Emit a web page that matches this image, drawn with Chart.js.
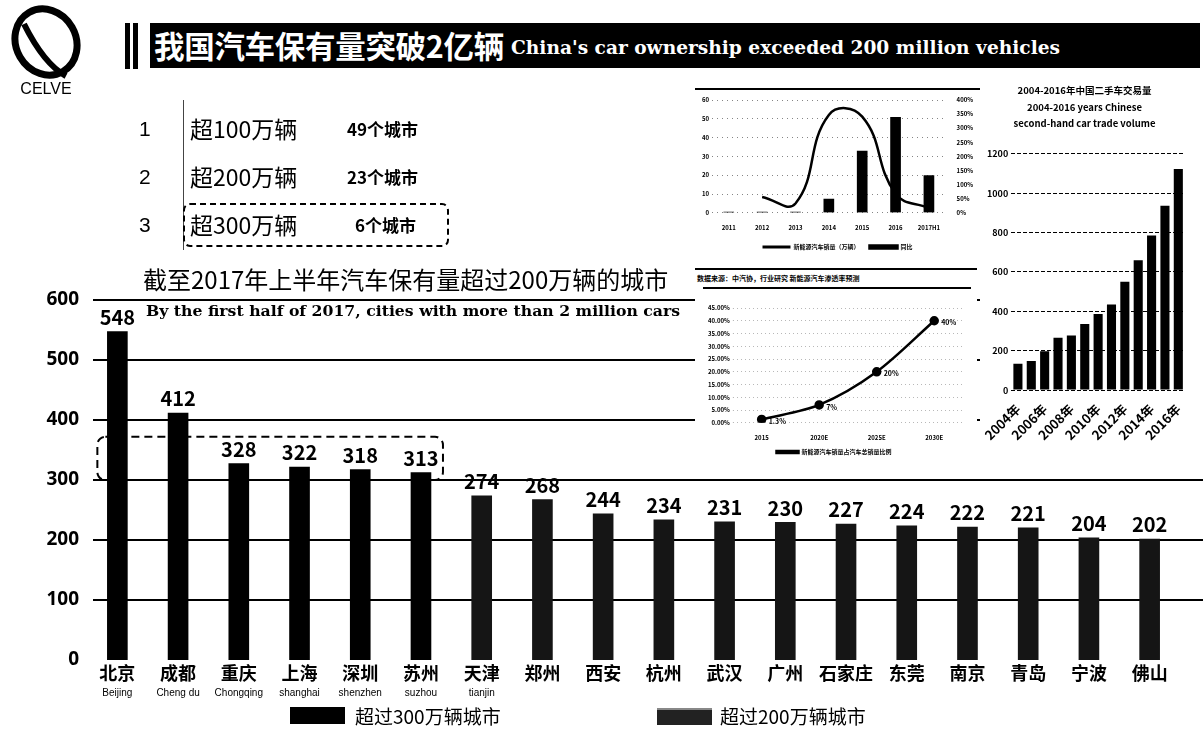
<!DOCTYPE html>
<html lang="zh-CN">
<head>
<meta charset="UTF-8">
<title>我国汽车保有量突破2亿辆</title>
<script src="https://cdn.jsdelivr.net/npm/chart.js"></script>
<style>
  body { margin: 0; background: #fff; font-family: "Noto Sans CJK SC", sans-serif; color: #000; }
  #page { position: relative; width: 1203px; height: 729px; overflow: hidden; background: #fff; }
  .abs { position: absolute; }
  .inset { position: absolute; background: #fff; }
  .num { position: absolute; left: 139px; font: 21px "Liberation Sans", sans-serif; }
  .item { position: absolute; left: 190px; font-size: 23px; line-height: 28px; }
  .cnt { position: absolute; font-size: 17px; font-weight: bold; line-height: 24px; }
  .lg-box { position: absolute; background: #000; }
  .lg-text { position: absolute; font-size: 19px; line-height: 24px; }
</style>
</head>
<body>
<div id="page">
  <!-- 主图 -->
  <canvas id="mainChart" class="abs" width="1203" height="729" style="left:0;top:0"></canvas>

  <!-- 标题栏 -->
  <svg class="abs" style="left:4px;top:4px" width="88" height="96" viewBox="0 0 88 96">
    <ellipse cx="42" cy="38" rx="30" ry="34" fill="none" stroke="#000" stroke-width="7" transform="rotate(-30 42 38)"/>
    <path d="M20 20 Q40 60 62 72" fill="none" stroke="#000" stroke-width="6"/>
    <text x="42" y="90" text-anchor="middle" font-family="Liberation Sans" font-size="16">CELVE</text>
  </svg>
  <div class="abs" style="left:125px;top:23px;width:5px;height:46px;background:#000"></div>
  <div class="abs" style="left:133px;top:23px;width:5px;height:46px;background:#000"></div>
  <div class="abs" style="left:150px;top:23px;width:1050px;height:45px;background:#000;color:#fff;white-space:nowrap">
    <span style="position:absolute;left:4px;top:1px;font-size:30.5px;font-weight:bold;line-height:42px;letter-spacing:-0.3px">我国汽车保有量突破2亿辆</span>
    <span style="position:absolute;left:361px;top:5px;font:bold 18.6px 'DejaVu Serif',serif;line-height:40px">China's car ownership exceeded 200 million vehicles</span>
  </div>

  <!-- 城市数量 -->
  <div class="abs" style="left:183px;top:100px;width:1px;height:150px;background:#444"></div>
  <div class="num" style="top:117px">1</div>
  <div class="num" style="top:165px">2</div>
  <div class="num" style="top:213px">3</div>
  <div class="item" style="top:114px">超100万辆</div>
  <div class="item" style="top:162px">超200万辆</div>
  <div class="item" style="top:210px">超300万辆</div>
  <div class="cnt" style="left:347px;top:117px">49个城市</div>
  <div class="cnt" style="left:347px;top:165px">23个城市</div>
  <div class="cnt" style="left:355px;top:213px">6个城市</div>
  <div class="abs" style="left:183px;top:203px;width:262px;height:40px;border:2px dashed #000;border-radius:7px"></div>

  <!-- 主图标题 -->
  <div class="abs" style="left:143px;top:264px;font-size:24px;white-space:nowrap;line-height:30px">截至2017年上半年汽车保有量超过200万辆的城市</div>
  <div class="abs" style="left:146px;top:301px;font:bold 15.7px 'DejaVu Serif',serif;white-space:nowrap;line-height:20px">By the first half of 2017, cities with more than 2 million cars</div>

  <!-- 图例 -->
  <div class="lg-box" style="left:290px;top:707px;width:55px;height:17px"></div>
  <div class="lg-text" style="left:355px;top:704px">超过300万辆城市</div>
  <div class="lg-box" style="left:657px;top:708px;width:55px;height:15px;background:#222;border-top:2px solid #888"></div>
  <div class="lg-text" style="left:720px;top:704px">超过200万辆城市</div>

  <!-- 小图1：新能源汽车销量 -->
  <div class="inset" style="left:695px;top:88px;width:285px;height:172px;border-top:2px solid #000">
    <canvas id="nevChart" width="285" height="170"></canvas>
  </div>

  <!-- 小图2：渗透率预测 -->
  <div class="inset" style="left:695px;top:266px;width:282px;height:199px">
    <div class="abs" style="left:0;top:2px;width:282px;height:2px;background:#000"></div>
    <div class="abs" style="left:2px;top:7px;font-size:7px;font-weight:bold;white-space:nowrap">数据来源：中汽协，行业研究    新能源汽车渗透率预测</div>
    <div class="abs" style="left:8px;top:21px;width:268px;height:2px;background:#000"></div>
    <canvas id="shareChart" class="abs" style="left:0;top:32px" width="282" height="167"></canvas>
  </div>

  <!-- 小图3：二手车交易量 -->
  <div class="inset" style="left:980px;top:78px;width:223px;height:387px">
    <canvas id="usedChart" width="223" height="387"></canvas>
  </div>
</div>

<script>
  // 主图数据：2017年上半年汽车保有量（万辆）
  var cities = ['北京', '成都', '重庆', '上海', '深圳', '苏州', '天津', '郑州', '西安',
    '杭州', '武汉', '广州', '石家庄', '东莞', '南京', '青岛', '宁波', '佛山'];
  var pinyin = ['Beijing', 'Cheng du', 'Chongqing', 'shanghai', 'shenzhen', 'suzhou', 'tianjin'];
  var carStock = [548, 412, 328, 322, 318, 313, 274, 268, 244, 234, 231, 230, 227, 224, 222, 221, 204, 202];
  var yTicks = [0, 100, 200, 300, 400, 500, 600];

  // 小图1：新能源汽车销量（万辆）与同比
  var nevYears = ['2011', '2012', '2013', '2014', '2015', '2016', '2017H1'];
  var nevSales = [0.5, 0.5, 0.6, 7.5, 33, 51, 20];
  var nevGrowth = [null, 56, 33, 347, 341, 68, 17];

  // 小图2：新能源汽车占比预测（%）
  var shareYears = ['2015', '2020E', '2025E', '2030E'];
  var shareValues = [1.3, 7, 20, 40];
  var shareLabels = ['1.3%', '7%', '20%', '40%'];

  // 小图3：二手车交易量（万辆）
  var usedYears = ['2004年', '2005年', '2006年', '2007年', '2008年', '2009年', '2010年',
    '2011年', '2012年', '2013年', '2014年', '2015年', '2016年'];
  var usedVolume = [134, 148, 197, 266, 277, 336, 387, 435, 550, 659, 785, 936, 1123];

  var CJK = '"Noto Sans CJK SC", sans-serif';
  Chart.defaults.color = '#000';

  // 横向网格线一直画到页面右边
  var gridLines = {
    id: 'gridLines',
    beforeDatasetsDraw: function (chart) {
      var ctx = chart.ctx, ys = chart.scales.y;
      ctx.save();
      ctx.strokeStyle = '#000';
      ctx.lineWidth = 2;
      yTicks.forEach(function (v) {
        if (v === 0) return;
        var py = Math.round(ys.getPixelForValue(v));
        ctx.beginPath();
        ctx.moveTo(chart.chartArea.left + 6, py);
        ctx.lineTo(chart.width, py);
        ctx.stroke();
      });
      ctx.restore();
    }
  };

  // 柱顶数值、300万辆虚线框、拼音
  var mainExtras = {
    id: 'mainExtras',
    afterDatasetsDraw: function (chart) {
      var ctx = chart.ctx, xs = chart.scales.x, ys = chart.scales.y;
      ctx.save();
      ctx.fillStyle = '#000';
      ctx.font = 'bold 20px ' + CJK;
      ctx.textAlign = 'center';
      ctx.textBaseline = 'bottom';
      chart.data.datasets.forEach(function (ds, di) {
        chart.getDatasetMeta(di).data.forEach(function (bar, i) {
          if (ds.data[i] == null) return;
          ctx.fillText(ds.data[i], bar.x, bar.y - 4);
        });
      });

      var n300 = carStock.filter(function (v) { return v >= 300; }).length;
      var x0 = xs.getPixelForValue(0) - 20;
      var x1 = xs.getPixelForValue(n300 - 1) + 22;
      var y0 = ys.getPixelForValue(372);
      var y1 = ys.getPixelForValue(300);
      ctx.strokeStyle = '#000';
      ctx.lineWidth = 2;
      ctx.setLineDash([8, 5]);
      ctx.beginPath();
      ctx.roundRect(x0, y0, x1 - x0, y1 - y0, 8);
      ctx.stroke();
      ctx.setLineDash([]);

      ctx.font = '10px "Liberation Sans", sans-serif';
      ctx.textBaseline = 'middle';
      pinyin.forEach(function (p, i) {
        ctx.fillText(p, xs.getPixelForValue(i), 693);
      });
      ctx.restore();
    }
  };

  new Chart(document.getElementById('mainChart'), {
    type: 'bar',
    data: {
      labels: cities,
      datasets: [{
        label: '超过300万辆城市',
        data: carStock.map(function (v) { return v >= 300 ? v : null; }),
        backgroundColor: '#000',
        barPercentage: 0.34,
        categoryPercentage: 1
      }, {
        label: '超过200万辆城市',
        data: carStock.map(function (v) { return v < 300 ? v : null; }),
        backgroundColor: '#151515',
        barPercentage: 0.34,
        categoryPercentage: 1
      }]
    },
    options: {
      responsive: false,
      animation: false,
      layout: { padding: { top: 300, right: 23, bottom: 29, left: 0 } },
      plugins: { legend: { display: false }, tooltip: { enabled: false } },
      scales: {
        x: {
          stacked: true,
          grid: { display: false, drawTicks: false },
          border: { display: false },
          ticks: { font: { family: CJK, size: 18, weight: 'bold' }, padding: 2, autoSkip: false, maxRotation: 0 },
          afterFit: function (s) { s.height = 40; }
        },
        y: {
          min: 0, max: 600,
          afterBuildTicks: function (s) { s.ticks = yTicks.map(function (v) { return { value: v }; }); },
          grid: { display: false, drawTicks: false },
          border: { display: false },
          ticks: { font: { family: '"Noto Sans", sans-serif', size: 19, weight: 'bold' }, padding: 8 },
          afterFit: function (s) { s.width = 87; }
        }
      }
    },
    plugins: [gridLines, mainExtras]
  });

  // 小图1
  var tiny = { family: CJK, size: 6, weight: 'bold' };
  new Chart(document.getElementById('nevChart'), {
    type: 'bar',
    data: {
      labels: nevYears,
      datasets: [{
        type: 'bar',
        label: '新能源汽车销量（万辆）',
        data: nevSales,
        backgroundColor: '#000',
        barPercentage: 0.4,
        order: 2
      }, {
        type: 'line',
        label: '同比',
        data: nevGrowth,
        yAxisID: 'y1',
        borderColor: '#000',
        backgroundColor: '#000',
        borderWidth: 2.5,
        pointRadius: 0,
        tension: 0.45,
        order: 1
      }]
    },
    options: {
      responsive: false,
      animation: false,
      layout: { padding: { top: 10, left: 4, right: 4, bottom: 0 } },
      plugins: {
        tooltip: { enabled: false },
        legend: {
          position: 'bottom',
          labels: {
            font: tiny, boxWidth: 28, boxHeight: 3, padding: 10,
            sort: function (a, b) { return a.datasetIndex - b.datasetIndex; }
          }
        }
      },
      scales: {
        x: { grid: { display: false }, border: { display: false }, ticks: { font: tiny, maxRotation: 0 } },
        y: {
          min: 0, max: 60, ticks: { stepSize: 10, font: tiny },
          grid: { color: '#666', lineWidth: 0.8, tickLength: 0 }, border: { display: false, dash: [1, 4] }
        },
        y1: {
          position: 'right', min: 0, max: 400,
          ticks: { stepSize: 50, font: tiny, callback: function (v) { return v + '%'; } },
          grid: { display: false }, border: { display: false }
        }
      }
    }
  });

  // 小图2
  var pointLabels = {
    id: 'pointLabels',
    afterDatasetsDraw: function (chart) {
      var ctx = chart.ctx;
      ctx.save();
      ctx.font = 'bold 7px ' + CJK;
      ctx.fillStyle = '#000';
      ctx.textBaseline = 'middle';
      chart.getDatasetMeta(0).data.forEach(function (pt, i) {
        ctx.fillText(shareLabels[i], pt.x + 7, pt.y + 2);
      });
      ctx.restore();
    }
  };
  new Chart(document.getElementById('shareChart'), {
    type: 'line',
    data: {
      labels: shareYears,
      datasets: [{
        label: '新能源汽车销量占汽车总销量比例',
        data: shareValues,
        borderColor: '#000',
        backgroundColor: '#000',
        borderWidth: 2.5,
        pointRadius: 3.5,
        tension: 0.3
      }]
    },
    options: {
      responsive: false,
      animation: false,
      layout: { padding: { top: 10, left: 10, right: 14, bottom: 0 } },
      plugins: {
        tooltip: { enabled: false },
        legend: { position: 'bottom', labels: { font: tiny, boxWidth: 22, boxHeight: 2, padding: 5 } }
      },
      scales: {
        x: { offset: true, grid: { display: false }, border: { display: false }, ticks: { font: tiny } },
        y: {
          min: 0, max: 45,
          ticks: { stepSize: 5, font: tiny, callback: function (v) { return v.toFixed(2) + '%'; } },
          grid: { color: '#888', lineWidth: 0.6, tickLength: 0 }, border: { display: false, dash: [1, 3] }
        }
      }
    },
    plugins: [pointLabels]
  });

  // 小图3
  new Chart(document.getElementById('usedChart'), {
    type: 'bar',
    data: {
      labels: usedYears,
      datasets: [{ label: '二手车交易量', data: usedVolume, backgroundColor: '#000', barPercentage: 0.68, categoryPercentage: 1 }]
    },
    options: {
      responsive: false,
      animation: false,
      layout: { padding: { top: 4, left: 4, right: 18, bottom: 19 } },
      plugins: {
        tooltip: { enabled: false },
        legend: { display: false },
        title: {
          display: true,
          text: ['2004-2016年中国二手车交易量', '2004-2016 years Chinese', 'second-hand car trade volume'],
          font: { family: CJK, size: 9.5, weight: 'bold', lineHeight: 1.75 },
          padding: { top: 0, bottom: 22 }
        }
      },
      scales: {
        x: {
          grid: { display: false }, border: { display: false },
          ticks: {
            font: { family: CJK, size: 13, weight: 'bold' }, minRotation: 45, maxRotation: 45, autoSkip: false,
            callback: function (v, i) { return i % 2 === 0 ? usedYears[i] : ''; }
          }
        },
        y: {
          min: 0, max: 1200,
          ticks: { stepSize: 200, font: { family: CJK, size: 9, weight: 'bold' }, callback: function (v) { return v; } },
          grid: { color: '#000', lineWidth: 1, tickLength: 0 }, border: { display: false, dash: [4, 2] }
        }
      }
    }
  });
</script>
</body>
</html>
